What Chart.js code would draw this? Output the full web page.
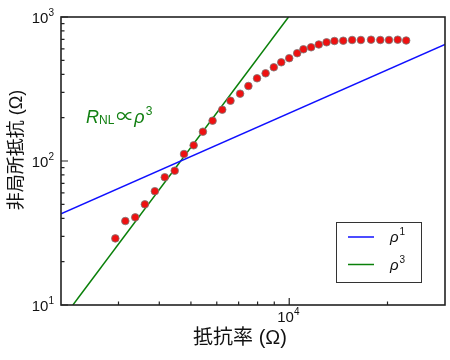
<!DOCTYPE html>
<html>
<head>
<meta charset="utf-8">
<script src="https://cdn.jsdelivr.net/npm/chart.js@4"></script>
<style>
  html, body { margin: 0; padding: 0; background: #fff; }
  #wrap { width: 450px; height: 360px; }
</style>
</head>
<body>
<div id="wrap"><canvas id="chart" width="450" height="360"></canvas></div>
<script>
// measured points: resistivity (Ω) vs nonlocal resistance (Ω)
const rho = [2934, 3148, 3376, 3613, 3877, 4158, 4460, 4762, 5097, 5441, 5825, 6235, 6609, 7073, 7499, 7970, 8467,
  8970, 9454, 10000, 10578, 11054, 11670, 12318, 13013, 13757, 14636, 15584, 16577, 17808, 19010, 20210, 21492, 22815];
const rNL = [29.0, 38.3, 40.6, 50.0, 61.7, 77.1, 85.6, 111.8, 128.5, 159.8, 190.5, 227.1, 262.2, 293.4, 331.8, 375.3, 406.5,
  447.4, 484.6, 517.5, 560.6, 596.8, 616.2, 644.2, 667.3, 681.3, 684.6, 692.3, 692.3, 695.7, 692.3, 692.3, 695.7, 686.8];

// guide lines (end points)
const rho1X = [2000, 30000];
const rho1Y = [43, 645];
const rho3X = [2175, 9950];
const rho3Y = [10, 1000];

// ticks
const xMajor = [10000];
const xMinor = [3000, 4000, 5000, 6000, 7000, 8000, 9000, 20000];
const yMajor = [10, 100, 1000];
const yMinor = [20, 30, 40, 50, 60, 70, 80, 90, 200, 300, 400, 500, 600, 700, 800, 900];
const xLabelExp = ['4'];
const yLabelExp = ['1', '2', '3'];

const legendExp = ['1', '3'];
const xTitle = '抵抗率 (Ω)';
const yTitle = '非局所抵抗 (Ω)';

const FONT = '"Liberation Sans", Arial, "Noto Sans CJK JP", sans-serif';

function toPts(xs, ys) {
  return xs.map((x, i) => ({ x: x, y: ys[i] }));
}

// draw text pieces one after another: [text, size, italic, dy, gap]
function rich(ctx, x, y, parts, color) {
  ctx.fillStyle = color;
  ctx.textBaseline = 'alphabetic';
  ctx.textAlign = 'left';
  parts.forEach(p => {
    ctx.font = (p[2] ? 'italic ' : '') + p[1] + 'px ' + FONT;
    ctx.fillText(p[0], x, y + (p[3] || 0));
    x += ctx.measureText(p[0]).width + (p[4] || 0);
  });
}
function richWidth(ctx, parts) {
  let w = 0;
  parts.forEach(p => {
    ctx.font = (p[2] ? 'italic ' : '') + p[1] + 'px ' + FONT;
    w += ctx.measureText(p[0]).width + (p[4] || 0);
  });
  return w;
}

const decor = {
  id: 'decor',
  afterDraw(chart) {
    const ctx = chart.ctx;
    const a = chart.chartArea;
    const xs = chart.scales.x, ys = chart.scales.y;
    ctx.save();

    // frame
    ctx.strokeStyle = '#222';
    ctx.lineWidth = 1.6;
    ctx.strokeRect(a.left, a.top, a.right - a.left, a.bottom - a.top);

    // inward ticks
    ctx.lineWidth = 1.2;
    ctx.beginPath();
    xMajor.forEach(v => { const p = xs.getPixelForValue(v); ctx.moveTo(p, a.bottom); ctx.lineTo(p, a.bottom - 7); });
    xMinor.forEach(v => { const p = xs.getPixelForValue(v); ctx.moveTo(p, a.bottom); ctx.lineTo(p, a.bottom - 3.5); });
    yMajor.forEach(v => { const p = ys.getPixelForValue(v); ctx.moveTo(a.left, p); ctx.lineTo(a.left + 7, p); });
    yMinor.forEach(v => { const p = ys.getPixelForValue(v); ctx.moveTo(a.left, p); ctx.lineTo(a.left + 3.5, p); });
    ctx.stroke();

    // tick labels
    yMajor.forEach((v, i) => {
      const parts = [['10', 15], [yLabelExp[i], 10, false, -7]];
      const w = richWidth(ctx, parts);
      rich(ctx, a.left - 7 - w, ys.getPixelForValue(v) + 5.5, parts, '#111');
    });
    xMajor.forEach((v, i) => {
      const parts = [['10', 15], [xLabelExp[i], 10, false, -7]];
      rich(ctx, xs.getPixelForValue(v) - 12, a.bottom + 17, parts, '#111');
    });

    // axis titles
    ctx.fillStyle = '#111';
    ctx.font = '20px ' + FONT;
    ctx.textAlign = 'center';
    ctx.textBaseline = 'middle';
    ctx.fillText(xTitle, 240, 338);
    ctx.save();
    ctx.translate(17, 150);
    ctx.rotate(-Math.PI / 2);
    ctx.font = '18px ' + FONT;
    ctx.fillText(yTitle, 0, 0);
    ctx.restore();

    // annotation R_NL ∝ ρ^3
    rich(ctx, 86, 123, [['R', 18, true], ['NL', 12, false, 1, 2], ['∝', 18], ['ρ', 18, true, 0, 1], ['3', 12, false, -8]], '#138013');

    // legend
    const lx = 336, ly = 222, lw = 85, lh = 60;
    ctx.fillStyle = '#fff';
    ctx.fillRect(lx, ly, lw, lh);
    ctx.strokeStyle = '#333';
    ctx.lineWidth = 1;
    ctx.strokeRect(lx + 0.5, ly + 0.5, lw, lh);
    chart.data.datasets.slice(1).forEach((ds, i) => {
      const yy = ly + 15 + i * 27.5;
      ctx.strokeStyle = ds.borderColor;
      ctx.lineWidth = 1.5;
      ctx.beginPath();
      ctx.moveTo(lx + 12, yy);
      ctx.lineTo(lx + 38, yy);
      ctx.stroke();
      rich(ctx, lx + 54, yy + 5, [['ρ', 15, true, 0, 1], [legendExp[i], 10, false, -7]], '#111');
    });

    ctx.restore();
  }
};

new Chart(document.getElementById('chart'), {
  type: 'scatter',
  data: {
    datasets: [
      {
        label: 'R_NL',
        data: toPts(rho, rNL),
        backgroundColor: '#ee1111',
        borderColor: '#7a7a7a',
        borderWidth: 0.8,
        pointRadius: 3.8,
        showLine: false,
        order: 0
      },
      {
        label: 'rho1',
        data: toPts(rho1X, rho1Y),
        borderColor: '#1010ff',
        borderWidth: 1.5,
        pointRadius: 0,
        showLine: true,
        order: 1
      },
      {
        label: 'rho3',
        data: toPts(rho3X, rho3Y),
        borderColor: '#0a800a',
        borderWidth: 1.5,
        pointRadius: 0,
        showLine: true,
        order: 1
      }
    ]
  },
  options: {
    responsive: false,
    animation: false,
    layout: { padding: { left: 61, top: 17, right: 5, bottom: 55 } },
    plugins: {
      legend: { display: false },
      tooltip: { enabled: false }
    },
    scales: {
      x: { type: 'logarithmic', min: 2000, max: 30000, display: false },
      y: { type: 'logarithmic', min: 10, max: 1000, display: false }
    }
  },
  plugins: [decor]
});
</script>
</body>
</html>
